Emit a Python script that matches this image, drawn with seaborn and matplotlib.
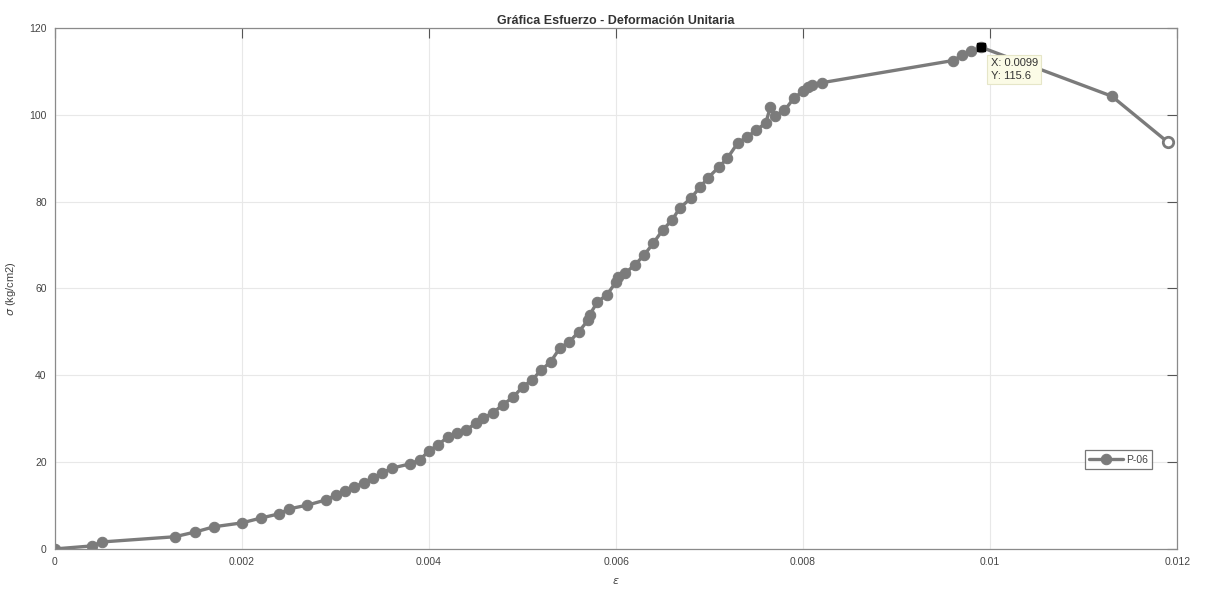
import matplotlib
matplotlib.use("Agg")
import matplotlib.pyplot as plt
from matplotlib.ticker import FormatStrFormatter, MultipleLocator
import seaborn as sns
import pandas as pd

# strain / stress readings for specimen P-06
strain = [
    0.0, 0.0004, 0.0005, 0.00128, 0.0015, 0.0017, 0.0020, 0.0022, 0.0024, 0.0025,
    0.0027, 0.0029, 0.0030, 0.0031, 0.0032, 0.0033, 0.0034, 0.0035, 0.0036, 0.0038,
    0.0039, 0.0040, 0.0041, 0.0042, 0.0043, 0.0044, 0.0045, 0.00458, 0.00468, 0.00479,
    0.0049, 0.0050, 0.0051, 0.0052, 0.0053, 0.0054, 0.0055, 0.0056, 0.0057, 0.00572,
    0.0058, 0.0059, 0.0060, 0.00602, 0.0061, 0.0062, 0.0063, 0.0064, 0.0065, 0.0066,
    0.00668, 0.0068, 0.0069, 0.00698, 0.0071, 0.00719, 0.0073, 0.0074, 0.0075, 0.0076,
    0.00765, 0.0077, 0.0078, 0.0079, 0.0080, 0.00805, 0.0081, 0.0082, 0.0096, 0.0097,
    0.0098, 0.0099, 0.0113, 0.0119,
]
stress = [
    0.0, 0.7, 1.6, 2.8, 3.9, 5.1, 6.0, 7.1, 8.1, 9.2,
    10.1, 11.3, 12.4, 13.4, 14.3, 15.2, 16.4, 17.5, 18.6, 19.6,
    20.5, 22.6, 24.0, 25.8, 26.7, 27.4, 29.0, 30.2, 31.3, 33.2,
    35.0, 37.3, 38.9, 41.2, 43.1, 46.3, 47.7, 50.0, 52.7, 54.0,
    56.9, 58.5, 61.5, 62.6, 63.6, 65.4, 67.7, 70.5, 73.5, 75.8,
    78.5, 80.8, 83.4, 85.4, 88.0, 90.0, 93.5, 94.9, 96.5, 98.1,
    101.8, 99.8, 101.0, 103.8, 105.5, 106.3, 106.9, 107.4, 112.5, 113.7,
    114.6, 115.6, 104.3, 93.7,
]
specimen = "P-06"
tip_x, tip_y = 0.0099, 115.6

df = pd.DataFrame({"strain": strain, "stress": stress, "serie": specimen})

sns.set_theme(style="whitegrid")
plt.rcParams["font.family"] = ["Liberation Sans", "DejaVu Sans"]

fig = plt.figure(figsize=(12.08, 5.96), dpi=100)
ax = fig.add_axes([0.0455, 0.079, 0.929, 0.874])

line_color = "#7b7b7b"
sns.lineplot(
    data=df, x="strain", y="stress", hue="serie", palette=[line_color],
    sort=False, estimator=None, marker="o", markersize=7.5, linewidth=2.4,
    markeredgecolor=line_color, ax=ax,
)
# last reading drawn hollow
ax.plot(strain[-1], stress[-1], "o", ms=7.5, mfc="white", mec=line_color, mew=2)

# data tip
ax.plot(tip_x, tip_y, "s", ms=6, color="black", zorder=5)
ax.annotate(
    f"X: {tip_x}\nY: {tip_y}", xy=(tip_x, tip_y), xytext=(10, -11),
    textcoords="offset pixels", ha="left", va="top", fontsize=8,
    color="#333333", linespacing=1.3,
    bbox=dict(boxstyle="square,pad=0.3", fc="#fbfbe6", ec="#e6e6c8", lw=0.8),
    zorder=6,
)

ax.set_xlim(0, 0.012)
ax.set_ylim(0, 120)
ax.xaxis.set_major_locator(MultipleLocator(0.002))
ax.yaxis.set_major_locator(MultipleLocator(20))
ax.xaxis.set_major_formatter(FormatStrFormatter("%g"))

ax.grid(True, color="#e8e8e8", linewidth=0.8)
ax.tick_params(direction="in", length=7, width=0.8, colors="#555555",
               labelsize=7.5, top=True, right=True, pad=6)
ax.tick_params(labelcolor="#444444")
for sp in ax.spines.values():
    sp.set_color("#8a8a8a")
    sp.set_linewidth(0.9)

ax.set_title("Gráfica Esfuerzo - Deformación Unitaria", fontsize=9,
             fontweight="bold", color="#333333", pad=3)
ax.set_xlabel(r"$\epsilon$", fontsize=8, color="#444444", labelpad=6)
ax.set_ylabel(r"$\sigma$ (kg/cm2)", fontsize=8, color="#444444", labelpad=8)

leg = ax.legend(loc="lower right", bbox_to_anchor=(0.982, 0.144), fontsize=7.5,
                frameon=True, fancybox=False, handlelength=3.2,
                borderpad=0.4, handletextpad=0.3)
leg.get_frame().set_edgecolor("#555555")
leg.get_frame().set_linewidth(0.9)
for t in leg.get_texts():
    t.set_color("#444444")

fig.savefig("out.png", dpi=100)
